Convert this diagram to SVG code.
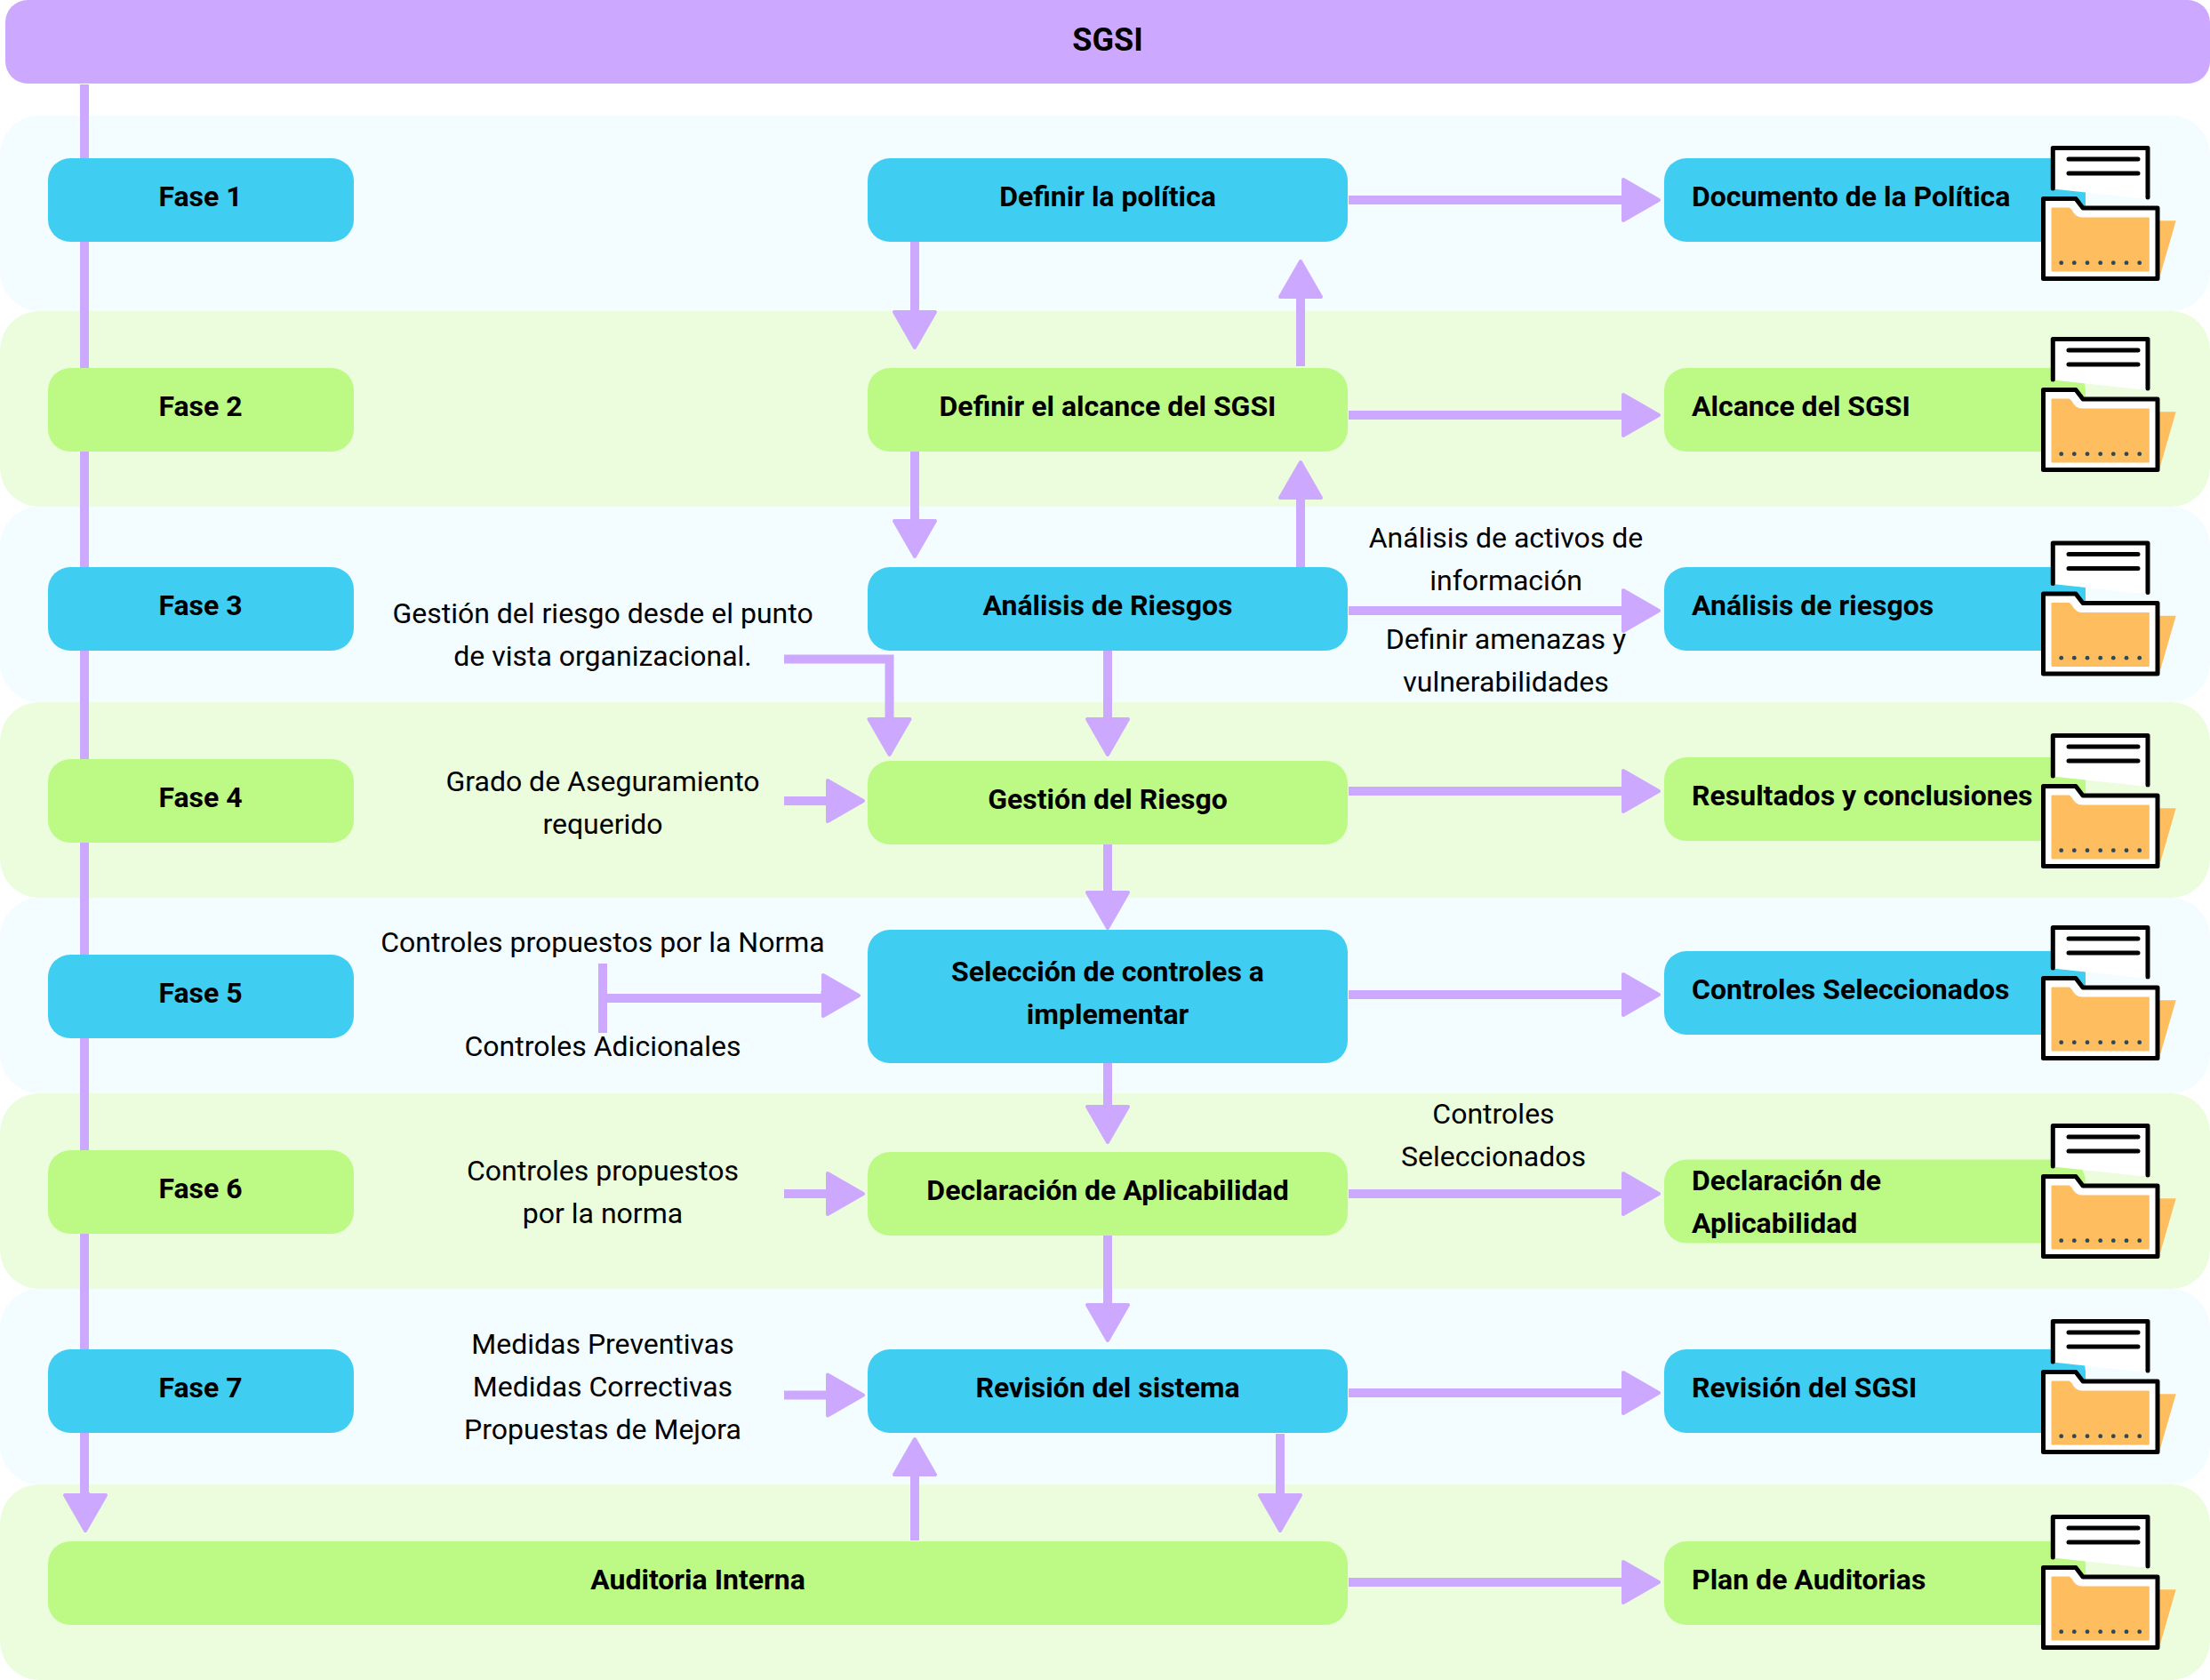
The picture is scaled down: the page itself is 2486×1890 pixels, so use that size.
<svg xmlns="http://www.w3.org/2000/svg" width="2486" height="1890" viewBox="0 0 2486 1890">
<style>
text{font-family:Roboto,"Liberation Sans",sans-serif;font-size:32px;fill:#000}
.b{font-weight:700}
.m{text-anchor:middle}
.blue{fill:#3FCEF2}.green{fill:#BDFA85}.bb{fill:#F3FCFF}.bg{fill:#EBFDDD}
.c{fill:none;stroke:#CCA8FF;stroke-width:10}
.a{marker-end:url(#h)}
</style>
<defs>
<marker id="h" markerUnits="userSpaceOnUse" markerWidth="60" markerHeight="60" viewBox="0 -30 60 60" refX="0" refY="0" orient="auto"><path d="M2,-23L42,0L2,23Z" fill="#CCA8FF" stroke="#CCA8FF" stroke-width="4" stroke-linejoin="round"/></marker>
<g id="icon">
<path d="M13.3,48.5V2.5H120V60Z" fill="#fff"/>
<path d="M13.3,48V2.5H120V58" fill="none" stroke="#000" stroke-width="5" stroke-linecap="round" stroke-linejoin="round"/>
<path d="M31,15H109M31,31H109" fill="none" stroke="#000" stroke-width="5" stroke-linecap="round"/>
<path d="M133,84.300L151.700,84.300L133,149Z" fill="#FEBE5F"/>
<path d="M2.500,59.500H39L47,70H131V149.500H2.500Z" fill="#fff" stroke="#000" stroke-width="5" stroke-linejoin="round"/>
<path d="M12,70H31C35,70 36,81 46,81H121.300V141H12Z" fill="#FEBE5F" stroke="#FEBE5F" stroke-width="1"/>
<g fill="#2F4858"><circle cx="22.700" cy="131.700" r="2.400"/><circle cx="37.300" cy="131.700" r="2.400"/><circle cx="52" cy="131.700" r="2.400"/><circle cx="66.700" cy="131.700" r="2.400"/><circle cx="81.300" cy="131.700" r="2.400"/><circle cx="96" cy="131.700" r="2.400"/><circle cx="110.700" cy="131.700" r="2.400"/></g>
</g>
</defs>
<rect width="2486" height="1890" fill="#fff"/>
<g id="bands">
<rect class="bb" x="0" y="130" width="2486" height="220" rx="44"/>
<rect class="bg" x="0" y="350" width="2486" height="220" rx="44"/>
<rect class="bb" x="0" y="570" width="2486" height="220" rx="44"/>
<rect class="bg" x="0" y="790" width="2486" height="220" rx="44"/>
<rect class="bb" x="0" y="1010" width="2486" height="220" rx="44"/>
<rect class="bg" x="0" y="1230" width="2486" height="220" rx="44"/>
<rect class="bb" x="0" y="1450" width="2486" height="220" rx="44"/>
<rect class="bg" x="0" y="1670" width="2486" height="220" rx="44"/>
</g>
<g id="connectors">
<path class="c" d="M95,95V1680"/>
<path class="c a" d="M96,1679V1680"/>
<path class="c a" d="M1029,272V349"/>
<path class="c a" d="M1463,412V336"/>
<path class="c a" d="M1029,508V584"/>
<path class="c a" d="M1463,638V562"/>
<path class="c a" d="M1246,732V807"/>
<path class="c a" d="M1246,950V1002"/>
<path class="c a" d="M1246,1196V1243"/>
<path class="c a" d="M1246,1390V1466"/>
<path class="c a" d="M1029,1733V1661"/>
<path class="c a" d="M1440,1613V1680"/>
<path class="c a" d="M882,741.500H1000.500V807"/>
<path class="c a" d="M882,901H929"/>
<path class="c" d="M678,1123H924"/>
<path class="c a" d="M923.500,1120H924"/>
<path class="c" d="M678,1084V1162"/>
<path class="c a" d="M882,1343H929"/>
<path class="c a" d="M882,1569.500H929"/>
<path class="c a" d="M1517,225H1824"/>
<path class="c a" d="M1517,467H1824"/>
<path class="c a" d="M1517,687H1824"/>
<path class="c a" d="M1517,890H1824"/>
<path class="c a" d="M1517,1119H1824"/>
<path class="c a" d="M1517,1343H1824"/>
<path class="c a" d="M1517,1567H1824"/>
<path class="c a" d="M1517,1780H1824"/>
</g>
<g id="sgsi"><rect x="6" y="0" width="2480" height="94" rx="25" fill="#CCA8FF"/><text class="b m" x="1246" y="57" style="font-size:36px">SGSI</text></g>
<g id="fase1"><rect class="blue" x="54" y="178" width="344" height="94" rx="25"/><text class="b m" x="225.500" y="232">Fase 1</text></g>
<g id="fase2"><rect class="green" x="54" y="414" width="344" height="94" rx="25"/><text class="b m" x="225.500" y="468">Fase 2</text></g>
<g id="fase3"><rect class="blue" x="54" y="638" width="344" height="94" rx="25"/><text class="b m" x="225.500" y="692">Fase 3</text></g>
<g id="fase4"><rect class="green" x="54" y="854" width="344" height="94" rx="25"/><text class="b m" x="225.500" y="908">Fase 4</text></g>
<g id="fase5"><rect class="blue" x="54" y="1074" width="344" height="94" rx="25"/><text class="b m" x="225.500" y="1128">Fase 5</text></g>
<g id="fase6"><rect class="green" x="54" y="1294" width="344" height="94" rx="25"/><text class="b m" x="225.500" y="1348">Fase 6</text></g>
<g id="fase7"><rect class="blue" x="54" y="1518" width="344" height="94" rx="25"/><text class="b m" x="225.500" y="1572">Fase 7</text></g>
<g id="auditoria"><rect class="green" x="54" y="1734" width="1462" height="94" rx="25"/><text class="b m" x="785" y="1788">Auditoria Interna</text></g>
<g id="politica"><rect class="blue" x="976" y="178" width="540" height="94" rx="25"/><text class="b m" x="1246" y="232">Definir la política</text></g>
<g id="alcance"><rect class="green" x="976" y="414" width="540" height="94" rx="25"/><text class="b m" x="1246" y="468">Definir el alcance del SGSI</text></g>
<g id="analisis"><rect class="blue" x="976" y="638" width="540" height="94" rx="25"/><text class="b m" x="1246" y="692">Análisis de Riesgos</text></g>
<g id="gestion"><rect class="green" x="976" y="856" width="540" height="94" rx="25"/><text class="b m" x="1246" y="910">Gestión del Riesgo</text></g>
<g id="seleccion"><rect class="blue" x="976" y="1046" width="540" height="150" rx="25"/><text class="b m" x="1246" y="1104">Selección de controles a</text><text class="b m" x="1246" y="1152">implementar</text></g>
<g id="declaracion"><rect class="green" x="976" y="1296" width="540" height="94" rx="25"/><text class="b m" x="1246" y="1350">Declaración de Aplicabilidad</text></g>
<g id="revision"><rect class="blue" x="976" y="1518" width="540" height="94" rx="25"/><text class="b m" x="1246" y="1572">Revisión del sistema</text></g>
<g id="doc1"><rect class="blue" x="1872" y="178" width="474" height="94" rx="25"/><text class="b" x="1903" y="232">Documento de la Política</text><use href="#icon" x="2296" y="164"/></g>
<g id="doc2"><rect class="green" x="1872" y="414" width="474" height="94" rx="25"/><text class="b" x="1903" y="468">Alcance del SGSI</text><use href="#icon" x="2296" y="379"/></g>
<g id="doc3"><rect class="blue" x="1872" y="638" width="474" height="94" rx="25"/><text class="b" x="1903" y="692">Análisis de riesgos</text><use href="#icon" x="2296" y="608.500"/></g>
<g id="doc4"><rect class="green" x="1872" y="852" width="474" height="94" rx="25"/><text class="b" x="1903" y="906">Resultados y conclusiones</text><use href="#icon" x="2296" y="825"/></g>
<g id="doc5"><rect class="blue" x="1872" y="1070" width="474" height="94" rx="25"/><text class="b" x="1903" y="1124">Controles Seleccionados</text><use href="#icon" x="2296" y="1041"/></g>
<g id="doc6"><rect class="green" x="1872" y="1304.500" width="474" height="94" rx="25"/><text class="b" x="1903" y="1339">Declaración de</text><text class="b" x="1903" y="1387">Aplicabilidad</text><use href="#icon" x="2296" y="1264"/></g>
<g id="doc7"><rect class="blue" x="1872" y="1518" width="474" height="94" rx="25"/><text class="b" x="1903" y="1572">Revisión del SGSI</text><use href="#icon" x="2296" y="1484"/></g>
<g id="doc8"><rect class="green" x="1872" y="1734" width="474" height="94" rx="25"/><text class="b" x="1903" y="1788">Plan de Auditorias</text><use href="#icon" x="2296" y="1704"/></g>
<g id="labels">
<text class="m" x="678" y="701">Gestión del riesgo desde el punto</text><text class="m" x="678" y="749">de vista organizacional.</text>
<text class="m" x="678" y="890">Grado de Aseguramiento</text><text class="m" x="678" y="938">requerido</text>
<text class="m" x="678" y="1071">Controles propuestos por la Norma</text>
<text class="m" x="678" y="1188">Controles Adicionales</text>
<text class="m" x="678" y="1328">Controles propuestos</text><text class="m" x="678" y="1376">por la norma</text>
<text class="m" x="678" y="1523">Medidas Preventivas</text><text class="m" x="678" y="1571">Medidas Correctivas</text><text class="m" x="678" y="1619">Propuestas de Mejora</text>
<text class="m" x="1694" y="616">Análisis de activos de</text><text class="m" x="1694" y="664">información</text>
<text class="m" x="1694" y="730">Definir amenazas y</text><text class="m" x="1694" y="778">vulnerabilidades</text>
<text class="m" x="1680" y="1264">Controles</text><text class="m" x="1680" y="1312">Seleccionados</text>
</g>
</svg>
